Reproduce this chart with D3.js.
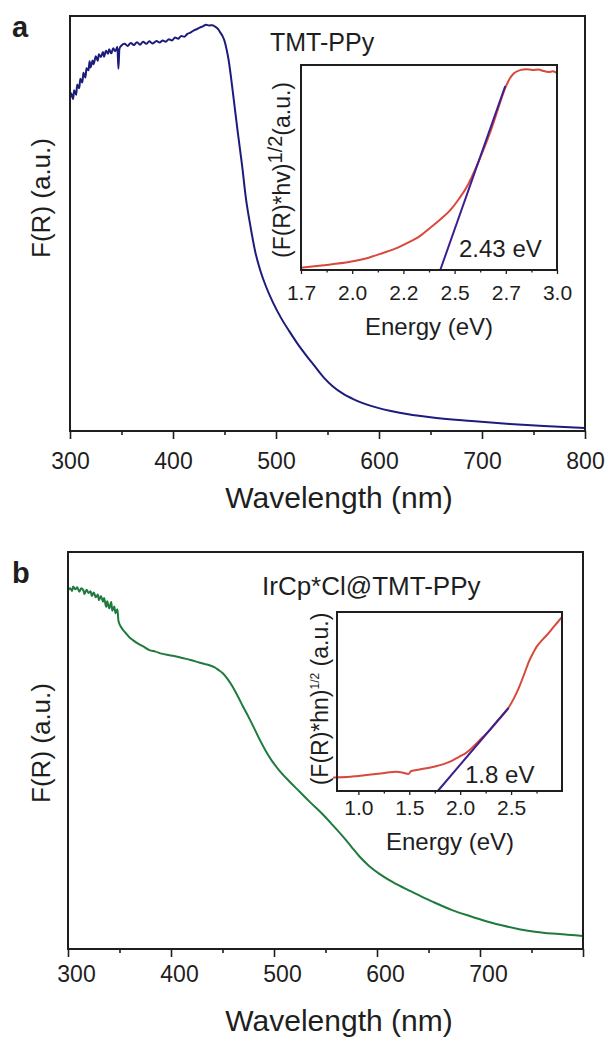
<!DOCTYPE html>
<html>
<head>
<meta charset="utf-8">
<script src="https://cdn.jsdelivr.net/npm/d3@7"></script>
<style>
  html, body { margin: 0; padding: 0; background: #fff; }
  svg { display: block; font-family: "Liberation Sans", Arial, sans-serif; }
</style>
</head>
<body>
<svg id="chart" width="611" height="1041"></svg>
<script>
// ---------- DATA ----------
// Panel a: TMT-PPy  F(R) vs wavelength
const waveA = [300,301,303,304,306,307,309,310,312,313,315,316,318,319,320,322,323,325,327,328,330,332,333,335,337,338,340,342,344,346,347,348,350,353,356,359,362,365,368,371,374,377,380,384,387,390,393,396,399,402,405,408,411,414,417,420,423,426,429,432,435,438,441,444,446,448,450,452,454,457,460,463,467,471,475,480,485,490,497,505,513,521,530,537,546,555,565,575,593,620,650,690,727,760,800];
const fA    = [80.2,81.4,80.0,82.1,81.0,83.5,82.6,84.9,84.0,86.3,85.2,87.4,86.9,89.1,87.6,89.3,88.4,90.3,89.2,90.8,90.1,91.3,90.2,91.6,90.9,92.0,91.0,92.2,91.5,92.6,87.3,92.1,92.9,93.3,92.8,93.5,93.0,93.7,93.1,93.8,93.3,93.9,93.4,94.0,93.6,94.1,93.8,94.4,94.1,94.8,94.5,95.2,95.0,95.7,96.0,96.5,96.8,97.2,97.5,97.9,97.7,97.8,97.4,96.8,96.0,95.2,94.0,92.0,89.4,83.9,77.8,71.8,64.1,55.7,49.6,43.0,38.5,35.0,31.0,27.2,24.0,21.0,18.0,15.8,13.0,10.8,9.0,7.7,6.0,4.4,3.3,2.4,1.7,1.2,0.7];
// Panel a inset: Tauc plot
const energyA = [1.75,1.85,1.99,2.08,2.15,2.22,2.27,2.33,2.38,2.43,2.48,2.52,2.56,2.60,2.64,2.68,2.71,2.73,2.75,2.77,2.79,2.82,2.85,2.88,2.91,2.93,2.96,2.98,3.00];
const taucA   = [1.1,2.2,4.0,6.0,8.3,10.8,13.2,16.5,20.5,24.6,29.3,34.5,40.6,49.0,58.5,69.0,78.0,84.0,89.4,93.5,96.0,97.5,97.9,97.6,97.8,97.2,96.6,96.9,96.0];
const fitEA = [2.43, 2.746];
const fitYA = [0, 89.4];
const insetTicksA = [1.75, 2.0, 2.25, 2.5, 2.75, 3.0];
const insetLabelsA = ["1.7", "2.0", "2.2", "2.5", "2.7", "3.0"];

// Panel b: IrCp*Cl@TMT-PPy  F(R) vs wavelength
const waveB = [300,302,304,305,307,309,311,313,315,316,318,320,322,323,325,327,329,330,332,334,335,337,338,340,342,343,345,346,348,349,352,356,360,363,368,373,379,385,391,396,403,411,419,428,434,438,442,446,450,455,460,465,470,475,480,486,492,498,505,515,525,535,547,557,567,575,583,592,602,615,629,641,655,673,690,706,722,738,755,770,785,800];
const fB    = [90.4,90.9,90.2,91.3,90.6,91.1,90.0,90.9,90.3,89.4,90.5,89.7,90.1,88.9,89.8,88.6,89.3,87.9,88.9,87.5,88.4,86.2,87.6,85.8,87.4,85.2,86.3,84.6,85.6,82.6,80.9,79.6,78.4,77.8,76.9,76.2,75.3,74.9,74.4,74.1,73.8,73.3,72.8,72.1,71.7,71.4,71.0,70.3,69.5,68.0,66.0,63.6,61.0,58.6,56.0,52.8,49.9,47.4,45.0,42.2,39.6,37.0,34.0,31.2,28.3,25.8,23.3,21.0,19.0,16.9,15.0,13.5,11.8,9.8,8.3,7.0,5.9,5.0,4.3,3.9,3.6,3.3];
// Panel b inset: Tauc plot
const energyB = [0.76,0.92,1.08,1.24,1.37,1.44,1.49,1.52,1.60,1.67,1.75,1.83,1.90,1.96,2.01,2.06,2.11,2.16,2.22,2.29,2.38,2.47,2.53,2.58,2.63,2.68,2.72,2.75,2.80,2.85,2.92,3.00];
const taucB   = [7.6,8.0,8.9,9.9,10.8,10.2,9.5,11.2,12.0,12.7,13.7,14.9,16.4,18.2,19.7,21.4,23.8,26.6,30.0,34.0,40.0,46.1,52.0,58.2,65.5,73.0,77.5,80.5,84.0,87.0,91.8,97.2];
const fitEB = [1.78, 2.47];
const fitYB = [0, 46.1];
const insetTicksB = [1.0, 1.5, 2.0, 2.5];
const insetLabelsB = ["1.0", "1.5", "2.0", "2.5"];

const mainTicks = [300, 400, 500, 600, 700, 800];
const mainMinor = [350, 450, 550, 650, 750];
const mainLabelsA = ["300", "400", "500", "600", "700", "800"];
const mainLabelsB = ["300", "400", "500", "600", "700", ""];

// ---------- DRAWING ----------
const svg = d3.select("#chart");
const INK = "#1e1e1e";

function frame(g, x, y) {
  g.append("rect")
    .attr("x", x.range()[0]).attr("y", y.range()[1])
    .attr("width", x.range()[1] - x.range()[0])
    .attr("height", y.range()[0] - y.range()[1])
    .attr("fill", "none").attr("stroke", INK).attr("stroke-width", 2);
}

function bottomAxis(g, x, yPix, ticks, labels, opt) {
  const ax = g.append("g").attr("transform", `translate(0,${yPix})`)
    .call(d3.axisBottom(x).tickValues(ticks).tickSize(opt.major)
      .tickFormat((d, i) => labels[i]));
  ax.select(".domain").remove();
  ax.selectAll(".tick line").attr("stroke", INK).attr("stroke-width", opt.tw);
  ax.selectAll(".tick text")
    .attr("y", opt.base).attr("dy", 0).attr("dx", opt.dx || 0)
    .attr("fill", INK).attr("font-size", opt.fs)
    .attr("font-family", "Liberation Sans, Arial, sans-serif");
  if (opt.minor) {
    const mx = g.append("g").attr("transform", `translate(0,${yPix})`)
      .call(d3.axisBottom(x).tickValues(opt.minor).tickSize(opt.minorSize).tickFormat(""));
    mx.select(".domain").remove();
    mx.selectAll(".tick line").attr("stroke", INK).attr("stroke-width", opt.tw);
  }
}

function curve(g, xs, ys, x, y, color, w, curveType) {
  const pts = xs.map((d, i) => [d, ys[i]]);
  g.append("path").datum(pts)
    .attr("fill", "none").attr("stroke", color).attr("stroke-width", w)
    .attr("stroke-linejoin", "round").attr("stroke-linecap", "round")
    .attr("d", d3.line().x(d => x(d[0])).y(d => y(d[1])).curve(curveType || d3.curveLinear));
}

function rotLabel(g, xPix, yPix, parts, fs) {
  const t = g.append("text")
    .attr("transform", `translate(${xPix},${yPix}) rotate(-90)`)
    .attr("text-anchor", "middle").attr("fill", INK).attr("font-size", fs);
  parts.forEach(p => {
    t.append("tspan").attr("font-size", p.fs || fs).attr("dy", p.dy || 0).text(p.t);
  });
  return t;
}

function text(g, x, y, s, fs, anchor, weight) {
  g.append("text").attr("x", x).attr("y", y).attr("fill", INK)
    .attr("font-size", fs).attr("text-anchor", anchor || "start")
    .attr("font-weight", weight || "normal").text(s);
}

// ===== Panel a =====
const gA = svg.append("g");
const xA = d3.scaleLinear().domain([300, 800]).range([70, 585]);
const yA = d3.scaleLinear().domain([0, 100]).range([431, 16]);
curve(gA, waveA, fA, xA, yA, "#1c1c7c", 2, d3.curveMonotoneX);
frame(gA, xA, yA);
bottomAxis(gA, xA, 431, mainTicks, mainLabelsA, {major: 8, minor: mainMinor, minorSize: 4, tw: 1.6, base: 38, fs: 23});
text(gA, 339, 508, "Wavelength (nm)", 30, "middle");
rotLabel(gA, 50, 198, [{t: "F(R) (a.u.)"}], 26);
text(gA, 12, 37, "a", 29, "start", "bold");
text(gA, 270, 51, "TMT-PPy", 25, "start");

// inset a
const xIA = d3.scaleLinear().domain([1.75, 3.0]).range([301, 557]);
const yIA = d3.scaleLinear().domain([0, 100]).range([270, 65]);
gA.append("rect").attr("x", 301).attr("y", 65).attr("width", 256).attr("height", 205).attr("fill", "#fff");
curve(gA, energyA, taucA, xIA, yIA, "#d8483c", 2, d3.curveMonotoneX);
curve(gA, fitEA, fitYA, xIA, yIA, "#3d1e90", 2);
frame(gA, xIA, yIA);
const minorIA = d3.pairs(insetTicksA).map(p => (p[0] + p[1]) / 2);
bottomAxis(gA, xIA, 270, insetTicksA, insetLabelsA, {major: 4, minor: minorIA, minorSize: 2.5, tw: 1.3, base: 30, fs: 21});
text(gA, 429, 335, "Energy (eV)", 24, "middle");
text(gA, 459, 257, "2.43 eV", 24, "start");
rotLabel(gA, 290, 170, [{t: "(F(R)*hv)"}, {t: "1/2", fs: 20, dy: -8}, {t: "(a.u.)", dy: 8}], 23);

// ===== Panel b =====
const gB = svg.append("g");
const xB = d3.scaleLinear().domain([300, 800]).range([68, 583]);
const yB = d3.scaleLinear().domain([0, 100]).range([949, 552]);
curve(gB, waveB, fB, xB, yB, "#1f7b3d", 2, d3.curveMonotoneX);
frame(gB, xB, yB);
bottomAxis(gB, xB, 949, mainTicks, mainLabelsB, {major: 8, minor: mainMinor, minorSize: 4, tw: 1.6, base: 33, fs: 23, dx: 8});
text(gB, 339, 1031, "Wavelength (nm)", 30, "middle");
rotLabel(gB, 50, 743, [{t: "F(R) (a.u.)"}], 26);
text(gB, 12, 583, "b", 29, "start", "bold");
text(gB, 262, 595, "IrCp*Cl@TMT-PPy", 26, "start");

// inset b
const xIB = d3.scaleLinear().domain([0.79, 3.0]).range([337, 562]);
const yIB = d3.scaleLinear().domain([0, 100]).range([791, 612]);
gB.append("rect").attr("x", 337).attr("y", 612).attr("width", 225).attr("height", 179).attr("fill", "#fff");
curve(gB, energyB, taucB, xIB, yIB, "#d8483c", 2, d3.curveMonotoneX);
curve(gB, fitEB, fitYB, xIB, yIB, "#3d1e90", 2);
frame(gB, xIB, yIB);
const minorIB = [1.25, 1.75, 2.25, 2.75];
bottomAxis(gB, xIB, 791, insetTicksB, insetLabelsB, {major: 4, minor: minorIB, minorSize: 2.5, tw: 1.3, base: 24, fs: 21});
text(gB, 450, 850, "Energy (eV)", 24, "middle");
text(gB, 465, 783, "1.8 eV", 24, "start");
rotLabel(gB, 328, 699, [{t: "(F(R)*hn)"}, {t: "1/2", fs: 12, dy: -9}, {t: " (a.u.)", dy: 9}], 23);
</script>
</body>
</html>
